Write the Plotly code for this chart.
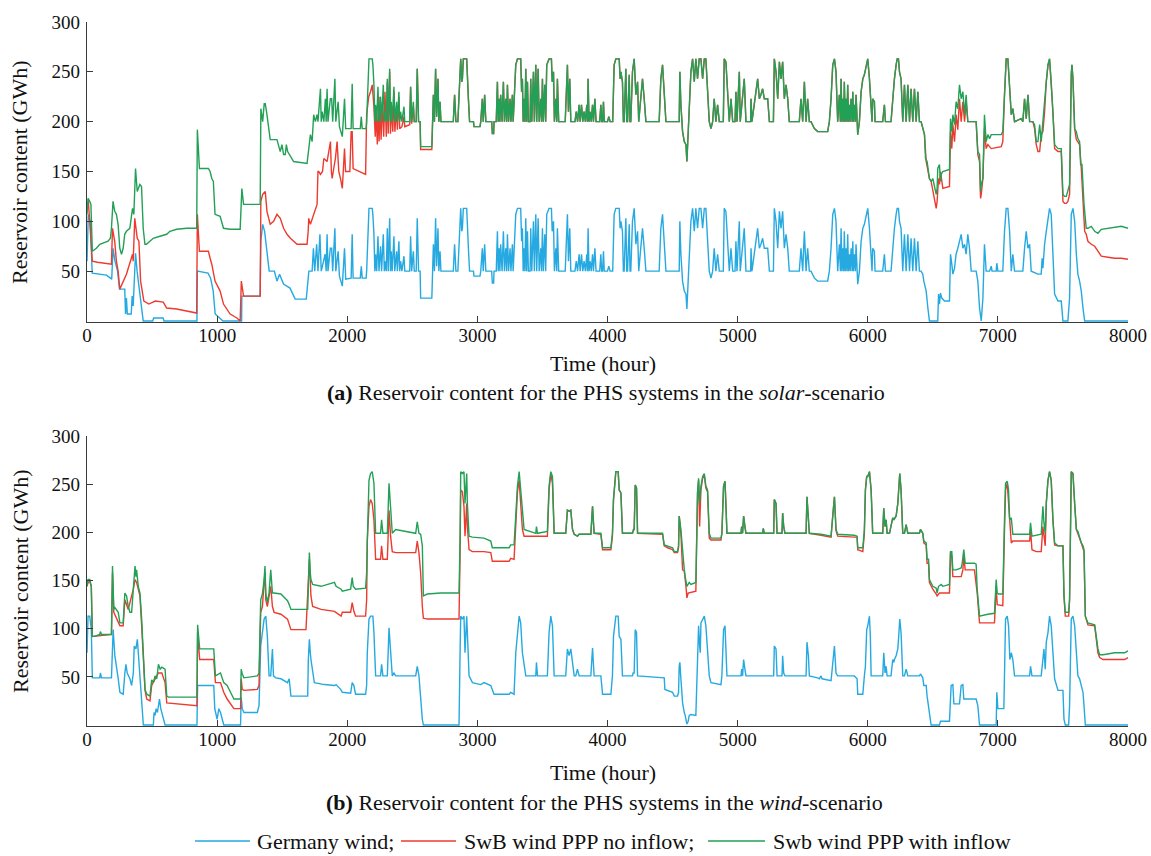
import plotly.graph_objects as go

# ---------------- axes / labels ----------------
X_TICKS = [0, 1000, 2000, 3000, 4000, 5000, 6000, 7000, 8000]
Y_TICKS = [50, 100, 150, 200, 250, 300]
SERIES_NAMES = ["Germany wind;", "SwB wind PPP no inflow;", "Swb wind PPP with inflow"]
Y_TITLE = "Reservoir content (GWh)"
X_TITLE = "Time (hour)"
CAPTION_A = "<b>(a)</b> Reservoir content for the PHS systems in the <i>solar</i>-scenario"
CAPTION_B = "<b>(b)</b> Reservoir content for the PHS systems in the <i>wind</i>-scenario"

# ---------------- (a) solar scenario: (hour, GWh) ----------------
SOLAR_GERMANY = [
    (0, 60), (10, 107), (25, 100), (40, 48), (150, 46), (190, 42), (200, 73), (215, 60), (235, 50), (250, 32),
    (290, 32), (296, 7), (303, 23), (310, 7), (340, 7), (347, 25), (355, 15), (365, 40), (373, 68), (385, 50),
    (395, 40), (432, 0), (505, 0), (512, 3), (545, 3), (585, 3), (592, 0), (845, 0), (848, 50), (930, 48),
    (950, 43), (970, 30), (985, 7), (1045, 0), (1188, 0), (1190, 25), (1330, 25), (1336, 80), (1350, 97),
    (1365, 90), (1380, 73), (1400, 50), (1440, 50), (1460, 40), (1480, 47), (1510, 37), (1560, 33), (1600, 22),
    (1685, 22), (1692, 30), (1705, 50), (1730, 50), (1740, 73), (1750, 50), (1765, 77), (1775, 50), (1790, 87),
    (1800, 50), (1830, 67), (1838, 50), (1845, 87), (1852, 50), (1870, 73), (1880, 73), (1888, 50), (1905, 93),
    (1912, 50), (1930, 70), (1940, 45), (1962, 35), (1979, 73), (1988, 42), (2030, 43), (2038, 87), (2045, 43),
    (2100, 43), (2108, 55), (2115, 43), (2145, 43), (2149, 50), (2160, 100), (2167, 113), (2192, 113),
    (2197, 107), (2205, 87), (2212, 50), (2218, 67), (2226, 50), (2236, 85), (2244, 50), (2256, 75), (2264, 50),
    (2277, 87), (2285, 50), (2295, 60), (2300, 50), (2308, 93), (2315, 50), (2326, 103), (2332, 50), (2338, 70),
    (2345, 50), (2359, 85), (2365, 50), (2379, 70), (2385, 50), (2397, 80), (2403, 50), (2410, 60), (2420, 50),
    (2436, 65), (2442, 50), (2480, 50), (2487, 85), (2495, 50), (2508, 70), (2515, 50), (2530, 50), (2538, 103),
    (2548, 50), (2560, 50), (2564, 23), (2650, 23), (2654, 50), (2662, 77), (2670, 50), (2679, 103), (2687, 55),
    (2697, 93), (2704, 50), (2713, 70), (2720, 50), (2815, 50), (2825, 77), (2835, 50), (2850, 50), (2860, 80),
    (2872, 113), (2880, 90), (2885, 93), (2892, 113), (2918, 113), (2931, 73), (2940, 50), (2970, 50), (2974, 45),
    (3020, 45), (3026, 50), (3038, 73), (3045, 50), (3056, 77), (3065, 50), (3110, 50), (3115, 38), (3125, 38),
    (3128, 50), (3145, 50), (3154, 90), (3160, 50), (3167, 73), (3173, 50), (3179, 77), (3190, 50), (3200, 90),
    (3208, 50), (3218, 73), (3225, 50), (3231, 87), (3240, 50), (3251, 73), (3258, 50), (3269, 77), (3275, 50),
    (3282, 73), (3290, 90), (3295, 107), (3308, 113), (3333, 113), (3340, 80), (3346, 93), (3352, 50), (3359, 73),
    (3365, 50), (3372, 103), (3378, 50), (3385, 90), (3392, 50), (3405, 50), (3410, 93), (3418, 50), (3431, 100),
    (3438, 50), (3449, 107), (3456, 50), (3467, 103), (3475, 50), (3487, 73), (3493, 50), (3500, 93), (3507, 50),
    (3518, 87), (3525, 50), (3533, 107), (3540, 110), (3551, 113), (3569, 113), (3575, 90), (3585, 100),
    (3592, 50), (3603, 73), (3610, 50), (3615, 93), (3625, 50), (3675, 50), (3685, 80), (3692, 107), (3700, 60),
    (3710, 93), (3718, 50), (3750, 50), (3760, 60), (3770, 50), (3782, 67), (3790, 50), (3800, 67), (3810, 50),
    (3820, 60), (3830, 50), (3841, 67), (3846, 50), (3851, 93), (3858, 50), (3867, 60), (3875, 50), (3885, 67),
    (3892, 50), (3903, 73), (3912, 50), (3940, 50), (3949, 67), (3955, 50), (3962, 50), (3969, 70), (3975, 50),
    (4000, 50), (4010, 55), (4020, 50), (4040, 50), (4051, 107), (4064, 113), (4090, 113), (4097, 93),
    (4103, 100), (4115, 90), (4122, 50), (4128, 50), (4141, 103), (4148, 50), (4154, 50), (4167, 97), (4173, 50),
    (4179, 50), (4192, 100), (4205, 113), (4218, 77), (4231, 90), (4240, 50), (4256, 73), (4269, 93), (4282, 73),
    (4295, 50), (4397, 50), (4410, 93), (4423, 107), (4436, 73), (4449, 50), (4551, 50), (4556, 100), (4564, 67),
    (4577, 40), (4590, 30), (4603, 27), (4610, 12), (4620, 40), (4628, 50), (4641, 100), (4654, 113), (4667, 90),
    (4679, 113), (4692, 93), (4705, 113), (4718, 113), (4731, 93), (4744, 113), (4756, 113), (4769, 73),
    (4782, 50), (4795, 43), (4808, 50), (4820, 73), (4833, 50), (4846, 67), (4859, 50), (4890, 50), (4897, 113),
    (4910, 110), (4923, 73), (4936, 50), (4949, 73), (4962, 50), (4980, 50), (4987, 80), (4995, 50), (5013, 100),
    (5020, 50), (5038, 73), (5051, 93), (5064, 50), (5100, 50), (5103, 73), (5110, 50), (5154, 93), (5167, 73),
    (5179, 77), (5192, 83), (5205, 73), (5231, 73), (5244, 50), (5275, 50), (5282, 113), (5295, 100), (5308, 73),
    (5321, 110), (5333, 93), (5346, 110), (5359, 73), (5372, 87), (5385, 73), (5397, 50), (5474, 50), (5487, 73),
    (5500, 50), (5513, 90), (5526, 50), (5538, 73), (5551, 50), (5564, 50), (5590, 43), (5615, 40), (5692, 40),
    (5705, 50), (5718, 73), (5731, 107), (5744, 113), (5756, 100), (5769, 50), (5782, 77), (5790, 50), (5795, 93),
    (5802, 50), (5808, 73), (5815, 50), (5820, 90), (5827, 50), (5833, 73), (5840, 50), (5846, 87), (5852, 50),
    (5859, 67), (5865, 50), (5872, 73), (5880, 50), (5885, 80), (5890, 50), (5897, 67), (5905, 50), (5910, 77),
    (5923, 37), (5936, 50), (5949, 80), (5962, 93), (5974, 97), (5987, 107), (6000, 113), (6013, 93), (6026, 70),
    (6033, 50), (6038, 73), (6051, 70), (6056, 50), (6115, 50), (6128, 67), (6136, 50), (6179, 50), (6192, 73),
    (6205, 93), (6218, 107), (6226, 113), (6236, 113), (6244, 100), (6256, 93), (6269, 50), (6282, 87), (6295, 50),
    (6308, 87), (6321, 50), (6333, 83), (6346, 50), (6359, 83), (6372, 50), (6385, 80), (6397, 50), (6410, 50),
    (6423, 47), (6431, 40), (6449, 30), (6462, 13), (6474, 0), (6538, 0), (6544, 27), (6551, 17), (6559, 28),
    (6569, 23), (6590, 20), (6628, 20), (6636, 67), (6646, 57), (6654, 47), (6667, 53), (6679, 67), (6692, 73),
    (6705, 80), (6718, 87), (6731, 73), (6744, 77), (6756, 67), (6769, 87), (6782, 73), (6795, 50), (6833, 50),
    (6846, 40), (6859, 13), (6867, 0), (6872, 0), (6885, 23), (6897, 77), (6910, 50), (6936, 50), (6949, 55),
    (6955, 50), (6987, 50), (6992, 58), (7000, 50), (7038, 50), (7051, 90), (7064, 113), (7077, 113), (7090, 90),
    (7103, 50), (7115, 67), (7128, 50), (7192, 50), (7205, 73), (7218, 90), (7231, 73), (7244, 77), (7256, 50),
    (7308, 47), (7333, 47), (7340, 63), (7346, 53), (7359, 77), (7372, 90), (7385, 100), (7397, 113), (7410, 107),
    (7423, 67), (7436, 27), (7462, 20), (7487, 20), (7500, 0), (7538, 0), (7551, 23), (7564, 107), (7577, 113),
    (7590, 100), (7603, 67), (7615, 47), (7628, 40), (7641, 30), (7654, 13), (7667, 0), (8000, 0),
]

SOLAR_INFLOW_START = [
    (0, 107), (8, 123), (21, 120), (30, 117), (41, 70), (72, 73), (98, 77), (123, 78), (162, 80), (180, 83),
    (188, 93), (200, 120), (213, 110), (226, 107), (239, 97), (252, 73), (265, 67), (278, 73), (290, 87),
    (303, 90), (329, 93), (350, 113), (360, 107), (373, 153), (386, 130), (406, 137), (419, 135), (432, 93),
    (445, 77), (457, 77), (483, 80), (509, 83), (560, 85), (612, 87), (637, 90), (689, 92), (766, 93), (843, 93),
    (848, 192), (864, 153), (933, 153), (946, 150), (959, 143), (971, 140), (984, 107), (1023, 105), (1049, 93),
    (1100, 92), (1177, 92), (1190, 133), (1203, 117), (1331, 117), (1336, 213), (1350, 200), (1362, 218),
    (1370, 218), (1383, 207), (1396, 193), (1408, 182), (1460, 182), (1485, 170), (1498, 177), (1511, 167),
    (1524, 167), (1532, 177), (1542, 170), (1588, 160), (1691, 158), (1704, 173), (1717, 187), (1730, 180),
    (1742, 207), (1755, 200), (1768, 207), (1775, 200), (1781, 213), (1794, 233), (1800, 200), (1807, 210),
    (1820, 200), (1832, 223), (1838, 200), (1845, 233), (1852, 200), (1870, 223), (1880, 223), (1888, 200),
    (1905, 243), (1912, 200), (1930, 220), (1940, 195), (1962, 185), (1979, 223), (1988, 193), (2030, 193),
    (2038, 238), (2045, 193), (2100, 193), (2108, 205), (2115, 193), (2145, 193), (2149, 200), (2160, 250),
    (2167, 263), (2192, 263), (2197, 257), (2205, 237), (2212, 200), (2218, 217), (2226, 200), (2236, 235),
    (2244, 200), (2256, 225), (2264, 200), (2277, 237), (2285, 200), (2295, 210), (2300, 200), (2308, 243),
    (2315, 200), (2326, 253), (2332, 200), (2338, 220), (2345, 200), (2359, 235), (2365, 200), (2379, 220),
    (2385, 200), (2397, 230), (2403, 200), (2410, 210), (2420, 200), (2436, 215), (2442, 200), (2480, 200),
    (2487, 235), (2495, 200), (2508, 220), (2515, 200), (2530, 200), (2538, 253), (2548, 200), (2560, 200),
    (2564, 175), (2650, 175),
]

SOLAR_NOINFLOW_START = [
    (0, 115), (10, 120), (21, 100), (41, 60), (80, 59), (188, 57), (196, 93), (213, 80), (226, 60), (239, 50),
    (252, 32), (290, 43), (303, 47), (350, 67), (355, 60), (367, 103), (386, 83), (399, 80), (412, 40), (437, 20),
    (475, 17), (525, 20), (586, 19), (612, 13), (689, 12), (843, 8), (848, 107), (864, 70), (933, 70), (946, 63),
    (959, 57), (984, 40), (1023, 30), (1049, 17), (1100, 7), (1152, 3), (1177, 0), (1186, 40), (1195, 30),
    (1203, 25), (1331, 25), (1336, 120), (1350, 127), (1370, 130), (1383, 110), (1408, 97), (1434, 100),
    (1460, 107), (1485, 103), (1511, 93), (1537, 87), (1563, 83), (1614, 77), (1691, 77), (1700, 90), (1704, 103),
    (1717, 97), (1742, 107), (1755, 110), (1768, 117), (1775, 150), (1781, 150), (1794, 147), (1810, 150),
    (1820, 163), (1845, 160), (1858, 170), (1871, 180), (1878, 150), (1884, 143), (1896, 153), (1909, 163),
    (1922, 180), (1935, 150), (1948, 143), (1962, 133), (1979, 173), (1987, 150), (2020, 150), (2030, 190),
    (2038, 190), (2045, 153), (2141, 147), (2149, 207), (2165, 225), (2179, 230), (2192, 237), (2205, 215),
    (2215, 185), (2222, 210), (2231, 177), (2238, 215), (2245, 180), (2252, 225), (2260, 182), (2270, 220),
    (2280, 185), (2290, 230), (2300, 185), (2308, 240), (2315, 188), (2326, 250), (2332, 188), (2340, 215),
    (2350, 190), (2359, 230), (2366, 190), (2379, 215), (2385, 192), (2397, 225), (2403, 193), (2420, 195),
    (2436, 205), (2442, 195), (2480, 197), (2487, 235), (2495, 198), (2508, 215), (2515, 200), (2530, 200),
    (2538, 253), (2548, 200), (2560, 200), (2564, 172), (2650, 172),
]

# stretch where both Swiss curves coincide in the picture
SOLAR_SWB_PLATEAU = [
    (2654, 200), (2662, 227), (2670, 200), (2679, 253), (2687, 205), (2697, 243), (2704, 200), (2713, 220),
    (2720, 200), (2815, 200), (2825, 227), (2835, 200), (2850, 200), (2860, 230), (2872, 263), (2880, 240),
    (2885, 243), (2892, 263), (2918, 263), (2931, 223), (2940, 200), (2970, 200), (2974, 195), (3020, 195),
    (3026, 200), (3038, 223), (3045, 200), (3056, 227), (3065, 200), (3110, 200), (3115, 188), (3125, 188),
    (3128, 200), (3145, 200), (3154, 240), (3160, 200), (3167, 223), (3173, 200), (3179, 227), (3190, 200),
    (3200, 240), (3208, 200), (3218, 223), (3225, 200), (3231, 237), (3240, 200), (3251, 223), (3258, 200),
    (3269, 227), (3275, 200), (3282, 223), (3290, 240), (3295, 257), (3308, 263), (3333, 263), (3340, 230),
    (3346, 243), (3352, 200), (3359, 223), (3365, 200), (3372, 253), (3378, 200), (3385, 240), (3392, 200),
    (3405, 200), (3410, 243), (3418, 200), (3431, 250), (3438, 200), (3449, 257), (3456, 200), (3467, 253),
    (3475, 200), (3487, 223), (3493, 200), (3500, 243), (3507, 200), (3518, 237), (3525, 200), (3533, 257),
    (3540, 260), (3551, 263), (3569, 263), (3575, 240), (3585, 250), (3592, 200), (3603, 223), (3610, 200),
    (3615, 243), (3625, 200), (3675, 200), (3685, 230), (3692, 257), (3700, 210), (3710, 243), (3718, 200),
    (3750, 200), (3760, 210), (3770, 200), (3782, 217), (3790, 200), (3800, 217), (3810, 200), (3820, 210),
    (3830, 200), (3841, 217), (3846, 200), (3851, 243), (3858, 200), (3867, 210), (3875, 200), (3885, 217),
    (3892, 200), (3903, 223), (3912, 200), (3940, 200), (3949, 217), (3955, 200), (3962, 200), (3969, 220),
    (3975, 200), (4000, 200), (4010, 205), (4020, 200), (4040, 200), (4051, 257), (4064, 263), (4090, 263),
    (4097, 243), (4103, 250), (4115, 240), (4122, 200), (4128, 200), (4141, 253), (4148, 200), (4154, 200),
    (4167, 247), (4173, 200), (4179, 200), (4192, 250), (4205, 263), (4218, 227), (4231, 240), (4240, 200),
    (4256, 223), (4269, 243), (4282, 223), (4295, 200), (4397, 200), (4410, 243), (4423, 257), (4436, 223),
    (4449, 200), (4551, 200), (4556, 250), (4564, 217), (4577, 190), (4590, 180), (4603, 177), (4610, 160),
    (4620, 190), (4628, 200), (4641, 250), (4654, 263), (4667, 240), (4679, 263), (4692, 243), (4705, 263),
    (4718, 263), (4731, 243), (4744, 263), (4756, 263), (4769, 223), (4782, 200), (4795, 193), (4808, 200),
    (4820, 223), (4833, 200), (4846, 217), (4859, 200), (4890, 200), (4897, 263), (4910, 260), (4923, 223),
    (4936, 200), (4949, 223), (4962, 200), (4980, 200), (4987, 230), (4995, 200), (5013, 250), (5020, 200),
    (5038, 223), (5051, 243), (5064, 200), (5100, 200), (5103, 223), (5110, 200), (5154, 243), (5167, 223),
    (5179, 227), (5192, 233), (5205, 223), (5231, 223), (5244, 200), (5275, 200), (5282, 263), (5295, 250),
    (5308, 223), (5321, 260), (5333, 243), (5346, 260), (5359, 223), (5372, 237), (5385, 223), (5397, 200),
    (5474, 200), (5487, 223), (5500, 200), (5513, 240), (5526, 200), (5538, 223), (5551, 200), (5564, 200),
    (5590, 193), (5615, 190), (5692, 190), (5705, 200), (5718, 223), (5731, 257), (5744, 263), (5756, 250),
    (5769, 200), (5782, 227), (5790, 200), (5795, 243), (5802, 200), (5808, 223), (5815, 200), (5820, 240),
    (5827, 200), (5833, 223), (5840, 200), (5846, 237), (5852, 200), (5859, 217), (5865, 200), (5872, 223),
    (5880, 200), (5885, 230), (5890, 200), (5897, 217), (5905, 200), (5910, 227), (5923, 187), (5936, 200),
    (5949, 230), (5962, 243), (5974, 247), (5987, 257), (6000, 263), (6013, 243), (6026, 220), (6033, 200),
    (6038, 223), (6051, 220), (6056, 200), (6115, 200), (6128, 217), (6136, 200), (6179, 200), (6192, 223),
    (6205, 243), (6218, 257), (6226, 263), (6236, 263), (6244, 250), (6256, 243), (6269, 200), (6282, 237),
    (6295, 200), (6308, 237), (6321, 200), (6333, 233), (6346, 200), (6359, 233), (6372, 200), (6385, 230),
    (6397, 200), (6410, 200),
]

SOLAR_INFLOW_END = [
    (6423, 193), (6436, 187), (6444, 163), (6456, 160), (6474, 143), (6487, 140), (6500, 143), (6513, 133),
    (6526, 127), (6533, 133), (6538, 153), (6551, 157), (6559, 140), (6564, 147), (6577, 150), (6628, 152),
    (6636, 203), (6646, 190), (6654, 207), (6667, 197), (6679, 220), (6692, 213), (6705, 237), (6718, 223),
    (6731, 230), (6744, 207), (6756, 227), (6769, 200), (6833, 200), (6846, 170), (6859, 167), (6867, 130),
    (6872, 137), (6885, 143), (6897, 207), (6910, 180), (6923, 187), (6936, 183), (6949, 187), (7026, 187),
    (7038, 190), (7051, 227), (7064, 263), (7077, 263), (7090, 233), (7103, 207), (7115, 213), (7128, 200),
    (7179, 203), (7192, 200), (7205, 223), (7218, 203), (7231, 227), (7244, 200), (7269, 200), (7282, 197),
    (7295, 180), (7308, 180), (7321, 197), (7333, 180), (7346, 200), (7359, 223), (7372, 240), (7385, 257),
    (7397, 263), (7410, 240), (7423, 210), (7436, 177), (7462, 173), (7487, 173), (7500, 127), (7513, 125),
    (7526, 125), (7538, 130), (7551, 137), (7564, 247), (7569, 257), (7577, 243), (7590, 193), (7603, 190),
    (7615, 183), (7628, 180), (7636, 157), (7646, 157), (7654, 130), (7662, 117), (7672, 103), (7679, 93),
    (7692, 93), (7718, 95), (7744, 90), (7769, 88), (7795, 92), (7846, 93), (7897, 94), (7949, 95), (8000, 93),
]

SOLAR_NOINFLOW_END = [
    (6423, 193), (6436, 187), (6449, 160), (6474, 143), (6487, 140), (6508, 127), (6526, 113), (6533, 120),
    (6544, 143), (6551, 137), (6559, 150), (6577, 133), (6628, 135), (6636, 190), (6646, 173), (6654, 197),
    (6667, 180), (6679, 207), (6692, 192), (6705, 223), (6718, 200), (6731, 220), (6744, 200), (6756, 220),
    (6769, 200), (6833, 200), (6846, 167), (6859, 160), (6867, 123), (6872, 127), (6885, 143), (6897, 193),
    (6910, 173), (6923, 177), (6949, 173), (7026, 175), (7038, 180), (7051, 227), (7064, 263), (7077, 263),
    (7090, 233), (7103, 207), (7115, 213), (7128, 200), (7179, 203), (7192, 200), (7205, 223), (7218, 203),
    (7231, 227), (7244, 200), (7269, 200), (7282, 193), (7295, 177), (7308, 170), (7321, 170), (7333, 187),
    (7346, 190), (7359, 210), (7372, 240), (7385, 257), (7397, 263), (7410, 240), (7423, 210), (7436, 173),
    (7462, 170), (7487, 170), (7500, 120), (7513, 118), (7526, 118), (7538, 120), (7551, 127), (7564, 247),
    (7569, 257), (7577, 243), (7590, 193), (7603, 182), (7615, 180), (7628, 177), (7641, 153), (7654, 120),
    (7667, 90), (7679, 87), (7692, 80), (7718, 77), (7744, 75), (7769, 70), (7795, 65), (7846, 64), (7897, 63),
    (7949, 63), (8000, 62),
]

# ---------------- (b) wind scenario: (hour, GWh) ----------------
WIND_GERMANY = [
    (0, 75), (8, 113), (21, 113), (33, 99), (41, 49), (98, 49), (103, 54), (111, 49), (188, 49), (196, 96),
    (201, 99), (214, 72), (227, 61), (240, 48), (253, 34), (278, 32), (291, 54), (299, 63), (309, 54), (330, 48),
    (343, 41), (356, 54), (363, 82), (376, 79), (387, 89), (394, 75), (407, 41), (420, 17), (433, 0), (510, 0),
    (515, 13), (523, 10), (531, 17), (541, 13), (557, 27), (567, 17), (588, 6), (600, 0), (845, 0), (850, 41),
    (974, 41), (982, 17), (1000, 6), (1013, 17), (1026, 13), (1051, 0), (1180, 0), (1185, 29), (1193, 17),
    (1206, 13), (1309, 13), (1322, 20), (1335, 82), (1348, 99), (1361, 110), (1374, 113), (1386, 92), (1399, 51),
    (1412, 51), (1425, 79), (1433, 51), (1451, 49), (1490, 48), (1541, 44), (1554, 48), (1567, 30), (1696, 30),
    (1701, 68), (1709, 89), (1716, 75), (1721, 68), (1747, 44), (1825, 42), (1902, 41), (1914, 42), (1949, 37),
    (1962, 34), (2026, 33), (2038, 44), (2051, 41), (2064, 32), (2141, 32), (2149, 41), (2154, 75), (2167, 110),
    (2179, 113), (2197, 113), (2205, 96), (2218, 51), (2256, 51), (2264, 63), (2274, 51), (2308, 51), (2321, 101),
    (2328, 89), (2333, 75), (2346, 51), (2359, 54), (2372, 51), (2526, 51), (2538, 61), (2551, 51), (2564, 27),
    (2577, 6), (2585, 0), (2859, 0), (2867, 75), (2872, 113), (2885, 110), (2897, 113), (2905, 75), (2918, 113),
    (2923, 96), (2936, 51), (2962, 44), (3026, 42), (3051, 44), (3103, 41), (3128, 32), (3244, 32), (3256, 34),
    (3282, 32), (3295, 75), (3308, 96), (3321, 113), (3333, 106), (3346, 75), (3372, 51), (3449, 51), (3454, 65),
    (3462, 51), (3538, 51), (3551, 96), (3564, 113), (3577, 103), (3590, 51), (3679, 51), (3692, 79), (3705, 72),
    (3718, 79), (3744, 51), (3756, 51), (3769, 58), (3782, 51), (3872, 51), (3885, 80), (3897, 51), (3949, 51),
    (3962, 32), (4026, 32), (4038, 51), (4046, 92), (4064, 113), (4082, 113), (4090, 92), (4103, 89), (4115, 51),
    (4192, 51), (4197, 54), (4205, 54), (4213, 99), (4223, 96), (4231, 51), (4436, 49), (4441, 37), (4500, 34),
    (4513, 30), (4538, 30), (4546, 34), (4551, 61), (4556, 65), (4564, 48), (4577, 23), (4590, 13), (4597, 10),
    (4610, 1), (4620, 4), (4628, 10), (4641, 11), (4679, 10), (4692, 75), (4700, 103), (4708, 82), (4713, 75),
    (4718, 106), (4731, 110), (4744, 113), (4756, 103), (4769, 75), (4782, 51), (4795, 44), (4872, 42), (4879, 51),
    (4892, 99), (4903, 103), (4910, 79), (4918, 51), (5026, 51), (5031, 58), (5038, 51), (5046, 68), (5056, 58),
    (5064, 51), (5277, 51), (5282, 82), (5295, 79), (5303, 51), (5341, 51), (5346, 72), (5354, 54), (5364, 51),
    (5526, 51), (5533, 86), (5544, 72), (5551, 51), (5615, 49), (5628, 48), (5641, 51), (5649, 48), (5718, 46),
    (5731, 65), (5744, 82), (5756, 54), (5769, 51), (5897, 51), (5918, 48), (5923, 32), (5962, 32), (5974, 51),
    (5982, 61), (5992, 99), (6000, 103), (6013, 113), (6020, 92), (6026, 51), (6115, 51), (6123, 75), (6133, 54),
    (6141, 61), (6149, 51), (6179, 51), (6192, 68), (6200, 65), (6205, 68), (6218, 72), (6231, 79), (6238, 92),
    (6246, 110), (6256, 96), (6269, 51), (6282, 51), (6295, 58), (6308, 51), (6397, 51), (6405, 53), (6423, 49),
    (6431, 41), (6449, 41), (6456, 30), (6467, 20), (6474, 10), (6487, 0), (6551, 0), (6559, 4), (6628, 4),
    (6641, 41), (6654, 42), (6662, 22), (6705, 22), (6718, 41), (6731, 42), (6738, 27), (6833, 27), (6846, 20),
    (6859, 0), (6987, 0), (6992, 34), (7000, 17), (7046, 17), (7051, 54), (7059, 110), (7072, 113), (7082, 103),
    (7092, 68), (7103, 75), (7115, 68), (7128, 51), (7244, 51), (7251, 61), (7262, 51), (7333, 51), (7346, 68),
    (7354, 79), (7364, 58), (7372, 86), (7385, 96), (7397, 113), (7410, 103), (7423, 68), (7436, 48), (7462, 36),
    (7500, 36), (7508, 6), (7518, 0), (7544, 0), (7551, 20), (7564, 110), (7577, 113), (7590, 103), (7603, 75),
    (7615, 51), (7628, 48), (7641, 41), (7654, 34), (7662, 20), (7672, 0), (8000, 0),
]

WIND_NOINFLOW = [
    (0, 144), (8, 148), (21, 149), (33, 144), (41, 92), (188, 94), (196, 158), (206, 117), (253, 103), (278, 103),
    (291, 130), (317, 120), (356, 141), (369, 151), (381, 148), (407, 134), (420, 103), (446, 36), (459, 27),
    (484, 25), (497, 41), (523, 48), (549, 54), (575, 54), (600, 44), (613, 23), (716, 22), (845, 20), (850, 96),
    (866, 68), (974, 68), (987, 44), (1026, 44), (1051, 34), (1077, 27), (1103, 22), (1129, 17), (1180, 17),
    (1185, 48), (1193, 37), (1206, 36), (1309, 37), (1322, 41), (1335, 117), (1348, 123), (1361, 148), (1368, 158),
    (1374, 130), (1386, 123), (1412, 144), (1425, 123), (1438, 117), (1490, 115), (1541, 110), (1554, 103),
    (1567, 99), (1683, 99), (1696, 141), (1709, 172), (1721, 134), (1734, 123), (1799, 120), (1902, 118),
    (1953, 113), (1962, 117), (2026, 117), (2038, 127), (2051, 118), (2064, 113), (2141, 113), (2149, 130),
    (2154, 192), (2167, 227), (2179, 234), (2192, 230), (2205, 213), (2218, 172), (2256, 172), (2264, 186),
    (2274, 172), (2308, 172), (2321, 223), (2328, 206), (2333, 196), (2346, 180), (2372, 179), (2526, 179),
    (2538, 191), (2551, 179), (2564, 158), (2577, 123), (2585, 111), (2615, 110), (2859, 110), (2867, 179),
    (2872, 244), (2885, 242), (2897, 227), (2905, 196), (2918, 230), (2923, 206), (2936, 182), (2962, 180),
    (3051, 180), (3103, 179), (3115, 170), (3244, 170), (3256, 173), (3282, 172), (3295, 213), (3308, 242),
    (3321, 254), (3333, 227), (3346, 203), (3359, 196), (3538, 196), (3551, 244), (3564, 261), (3577, 251),
    (3590, 199), (3679, 199), (3692, 223), (3705, 222), (3718, 223), (3731, 203), (3744, 198), (3769, 196),
    (3782, 198), (3872, 198), (3885, 227), (3897, 199), (3949, 198), (3962, 182), (4026, 182), (4038, 196),
    (4046, 234), (4064, 263), (4082, 263), (4090, 244), (4103, 241), (4115, 199), (4192, 199), (4200, 203),
    (4205, 203), (4213, 249), (4223, 246), (4231, 199), (4423, 198), (4436, 186), (4462, 184), (4500, 182),
    (4513, 179), (4538, 179), (4546, 184), (4551, 217), (4564, 199), (4577, 161), (4590, 160), (4603, 144),
    (4610, 132), (4620, 137), (4679, 139), (4692, 241), (4700, 254), (4708, 206), (4718, 244), (4731, 256),
    (4744, 259), (4756, 246), (4769, 242), (4782, 194), (4795, 192), (4872, 192), (4879, 199), (4892, 248),
    (4903, 253), (4910, 230), (4918, 199), (5026, 199), (5031, 206), (5038, 199), (5046, 217), (5056, 206),
    (5064, 199), (5192, 199), (5197, 204), (5205, 199), (5277, 199), (5282, 234), (5295, 230), (5303, 199),
    (5341, 199), (5346, 220), (5354, 206), (5364, 199), (5526, 199), (5533, 237), (5544, 217), (5551, 199),
    (5641, 197), (5718, 195), (5731, 217), (5744, 237), (5756, 202), (5769, 196), (5897, 195), (5918, 195),
    (5923, 182), (5962, 180), (5974, 199), (5982, 244), (5992, 258), (6000, 258), (6013, 263), (6026, 244),
    (6038, 199), (6115, 199), (6123, 225), (6133, 206), (6141, 213), (6149, 199), (6167, 199), (6179, 206),
    (6192, 215), (6200, 213), (6218, 217), (6231, 230), (6238, 244), (6246, 261), (6256, 244), (6269, 199),
    (6282, 199), (6295, 208), (6308, 199), (6397, 199), (6405, 203), (6423, 199), (6431, 189), (6449, 187),
    (6456, 168), (6467, 168), (6474, 148), (6500, 141), (6526, 136), (6533, 134), (6551, 137), (6628, 137),
    (6636, 179), (6646, 175), (6654, 154), (6718, 154), (6731, 161), (6738, 175), (6749, 161), (6820, 161),
    (6841, 137), (6859, 106), (6974, 106), (6987, 144), (6995, 125), (7038, 124), (7051, 203), (7059, 244),
    (7072, 251), (7090, 210), (7103, 189), (7115, 191), (7244, 191), (7251, 203), (7262, 182), (7295, 180),
    (7333, 180), (7346, 206), (7354, 196), (7364, 186), (7372, 230), (7385, 254), (7397, 263), (7410, 254),
    (7423, 213), (7436, 187), (7462, 186), (7500, 186), (7508, 134), (7518, 113), (7544, 113), (7551, 130),
    (7564, 263), (7577, 261), (7590, 230), (7603, 203), (7641, 189), (7662, 180), (7672, 113), (7692, 104),
    (7744, 103), (7769, 75), (7782, 70), (7808, 68), (7897, 68), (7974, 68), (8000, 70),
]

WIND_INFLOW = [
    (0, 144), (8, 151), (21, 151), (33, 144), (41, 92), (59, 92), (98, 94), (103, 97), (111, 94), (188, 94),
    (196, 165), (206, 120), (214, 122), (222, 120), (240, 117), (253, 106), (278, 106), (291, 137), (304, 134),
    (317, 123), (330, 117), (343, 117), (356, 144), (369, 165), (376, 154), (381, 161), (394, 144), (407, 137),
    (420, 110), (433, 75), (446, 37), (459, 32), (484, 30), (497, 47), (510, 44), (523, 51), (536, 48), (549, 63),
    (562, 58), (575, 60), (600, 58), (613, 30), (626, 29), (845, 29), (850, 104), (866, 79), (974, 79), (987, 51),
    (1026, 54), (1051, 44), (1077, 41), (1103, 34), (1129, 27), (1180, 27), (1185, 58), (1193, 53), (1206, 49),
    (1309, 51), (1322, 54), (1335, 130), (1348, 136), (1361, 151), (1368, 165), (1374, 137), (1386, 127),
    (1399, 137), (1412, 161), (1425, 137), (1438, 137), (1490, 136), (1541, 129), (1554, 125), (1567, 120),
    (1696, 120), (1701, 158), (1709, 179), (1716, 158), (1721, 151), (1734, 146), (1799, 144), (1902, 148),
    (1914, 144), (1953, 141), (1962, 139), (2026, 141), (2038, 153), (2046, 144), (2064, 141), (2141, 142),
    (2149, 158), (2154, 189), (2167, 254), (2179, 261), (2192, 263), (2205, 251), (2218, 199), (2256, 199),
    (2264, 213), (2274, 199), (2308, 199), (2321, 251), (2328, 234), (2333, 217), (2346, 199), (2372, 203),
    (2526, 199), (2538, 211), (2551, 199), (2564, 198), (2577, 186), (2585, 134), (2615, 136), (2718, 137),
    (2859, 137), (2867, 192), (2872, 263), (2885, 261), (2897, 263), (2905, 230), (2918, 261), (2923, 230),
    (2936, 196), (2962, 195), (3051, 194), (3103, 191), (3115, 184), (3244, 184), (3256, 187), (3282, 187),
    (3295, 217), (3308, 248), (3321, 263), (3333, 244), (3346, 217), (3359, 203), (3449, 199), (3454, 206),
    (3462, 199), (3538, 201), (3551, 248), (3564, 263), (3577, 258), (3590, 199), (3679, 199), (3692, 223),
    (3705, 222), (3718, 223), (3731, 203), (3744, 198), (3769, 196), (3782, 198), (3872, 198), (3885, 227),
    (3897, 199), (3949, 199), (3962, 184), (4026, 184), (4038, 199), (4046, 234), (4064, 263), (4082, 263),
    (4090, 244), (4103, 241), (4115, 199), (4192, 199), (4200, 203), (4205, 203), (4213, 249), (4223, 246),
    (4231, 199), (4423, 199), (4436, 187), (4462, 186), (4500, 184), (4513, 180), (4538, 180), (4546, 186),
    (4551, 217), (4564, 203), (4577, 179), (4585, 165), (4590, 161), (4597, 154), (4610, 144), (4628, 148),
    (4641, 146), (4679, 148), (4692, 242), (4700, 256), (4708, 230), (4718, 248), (4731, 258), (4744, 261),
    (4756, 248), (4769, 244), (4782, 199), (4795, 194), (4872, 194), (4879, 199), (4892, 248), (4903, 253),
    (4910, 230), (4918, 199), (5026, 199), (5031, 206), (5038, 199), (5046, 217), (5056, 206), (5064, 199),
    (5192, 199), (5197, 204), (5205, 199), (5277, 199), (5282, 234), (5295, 230), (5303, 199), (5341, 199),
    (5346, 220), (5354, 206), (5364, 199), (5526, 199), (5533, 237), (5544, 217), (5551, 199), (5641, 198),
    (5718, 196), (5731, 217), (5744, 237), (5756, 203), (5769, 198), (5897, 197), (5918, 196), (5923, 184),
    (5962, 184), (5974, 203), (5982, 244), (5992, 258), (6000, 258), (6013, 263), (6026, 244), (6038, 199),
    (6115, 199), (6123, 225), (6133, 206), (6141, 213), (6149, 199), (6167, 199), (6179, 206), (6192, 215),
    (6200, 213), (6218, 217), (6231, 230), (6238, 244), (6246, 261), (6256, 244), (6269, 199), (6282, 199),
    (6295, 208), (6308, 199), (6397, 199), (6405, 203), (6423, 199), (6431, 191), (6449, 189), (6456, 172),
    (6467, 172), (6474, 151), (6487, 148), (6500, 144), (6526, 142), (6533, 137), (6544, 144), (6564, 146),
    (6577, 144), (6628, 146), (6636, 180), (6646, 180), (6654, 161), (6679, 161), (6718, 163), (6726, 168),
    (6738, 182), (6749, 168), (6820, 168), (6833, 167), (6841, 141), (6859, 113), (6923, 115), (6974, 116),
    (6987, 151), (6995, 137), (7005, 136), (7038, 136), (7051, 213), (7059, 251), (7072, 253), (7082, 244),
    (7090, 213), (7103, 215), (7115, 198), (7244, 198), (7251, 210), (7262, 196), (7333, 198), (7346, 227),
    (7354, 210), (7364, 199), (7372, 230), (7385, 254), (7397, 263), (7410, 254), (7423, 213), (7436, 189),
    (7462, 186), (7500, 186), (7508, 134), (7518, 117), (7544, 117), (7551, 130), (7564, 263), (7577, 261),
    (7590, 230), (7603, 203), (7615, 201), (7641, 189), (7654, 186), (7662, 182), (7672, 113), (7679, 111),
    (7692, 106), (7744, 104), (7769, 79), (7782, 73), (7808, 73), (7897, 75), (7974, 75), (8000, 77),
]

SOLAR_SWB_INFLOW = SOLAR_INFLOW_START + SOLAR_SWB_PLATEAU + SOLAR_INFLOW_END
SOLAR_SWB_NOINFLOW = SOLAR_NOINFLOW_START + SOLAR_SWB_PLATEAU + SOLAR_NOINFLOW_END

COLORS = ["#25a9e0", "#ec3b2e", "#22a055"]

# ---------------- figure geometry (pixels) ----------------
W, H = 1151, 856
L, R, T, B = 87, 23, 22, 130
PW, PH = W - L - R, H - T - B
def px(x):
    return (x - L) / PW
def py(y):
    return (H - B - y) / PH

FONT = "Liberation Serif, Times New Roman, serif"
fig = go.Figure()

panels = [
    ("x", "y", [SOLAR_GERMANY, SOLAR_SWB_NOINFLOW, SOLAR_SWB_INFLOW]),
    ("x2", "y2", [WIND_GERMANY, WIND_NOINFLOW, WIND_INFLOW]),
]
for xa, ya, series in panels:
    for name, color, pts in zip(SERIES_NAMES, COLORS, series):
        fig.add_trace(go.Scatter(
            x=[p[0] for p in pts], y=[p[1] for p in pts], mode="lines", name=name,
            line=dict(color=color, width=1.4), xaxis=xa, yaxis=ya, showlegend=False,
            hoverinfo="skip",
        ))

axis_common = dict(
    showline=True, linecolor="#3a3a3a", linewidth=1.2, mirror=False,
    ticks="inside", ticklen=6, tickwidth=1.2, tickcolor="#3a3a3a",
    showgrid=False, zeroline=False, automargin=False,
    tickfont=dict(family=FONT, size=19, color="#111"),
)

top_dom = [(H - B - 322) / PH, 1.0]
bot_dom = [0.0, (H - B - 436) / PH]

fig.update_layout(
    width=W, height=H, margin=dict(l=L, r=R, t=T, b=B, autoexpand=False),
    paper_bgcolor="white", plot_bgcolor="white",
    xaxis=dict(domain=[0, 1], range=[0, 8000], tickvals=X_TICKS, anchor="y", ticklabelstandoff=-4, **axis_common),
    yaxis=dict(domain=top_dom, range=[-1, 300], tickvals=Y_TICKS, anchor="x", ticklabelstandoff=2, **axis_common),
    xaxis2=dict(domain=[0, 1], range=[0, 8000], tickvals=X_TICKS, anchor="y2", ticklabelstandoff=-4, **axis_common),
    yaxis2=dict(domain=bot_dom, range=[-1, 300], tickvals=Y_TICKS, anchor="x2", ticklabelstandoff=2, **axis_common),
)

tfont = dict(family=FONT, size=22, color="#111")
ann = []
# y-axis titles
for yc in (172, 581):
    ann.append(dict(x=px(20), y=py(yc), xref="paper", yref="paper", text=Y_TITLE, textangle=-90,
                    showarrow=False, font=tfont, xanchor="center", yanchor="middle"))
# x-axis titles
for yc in (363, 772):
    ann.append(dict(x=px(603), y=py(yc), xref="paper", yref="paper", text=X_TITLE,
                    showarrow=False, font=tfont, xanchor="center", yanchor="middle"))
# captions
ann.append(dict(x=px(606), y=py(392), xref="paper", yref="paper", text=CAPTION_A,
                showarrow=False, font=tfont, xanchor="center", yanchor="middle"))
ann.append(dict(x=px(604), y=py(802), xref="paper", yref="paper", text=CAPTION_B,
                showarrow=False, font=tfont, xanchor="center", yanchor="middle"))

# legend (drawn manually: line sample + text)
LEG_Y = 841
leg_lines = [(195, 250), (401, 456), (708, 765)]
leg_text_x = [255, 462, 771]
shapes = []
for (x0, x1), tx, name, color in zip(leg_lines, leg_text_x, SERIES_NAMES, COLORS):
    shapes.append(dict(type="line", xref="paper", yref="paper", x0=px(x0), x1=px(x1),
                       y0=py(LEG_Y), y1=py(LEG_Y), line=dict(color=color, width=1.6)))
    ann.append(dict(x=px(tx), y=py(LEG_Y), xref="paper", yref="paper", text=name,
                    showarrow=False, font=tfont, xanchor="left", yanchor="middle"))

fig.update_layout(annotations=ann, shapes=shapes)
fig.write_html(
    "out.html",
    config={"displayModeBar": False, "staticPlot": True},
    post_script="document.body.style.margin='0';document.body.style.overflow='hidden';",
)
